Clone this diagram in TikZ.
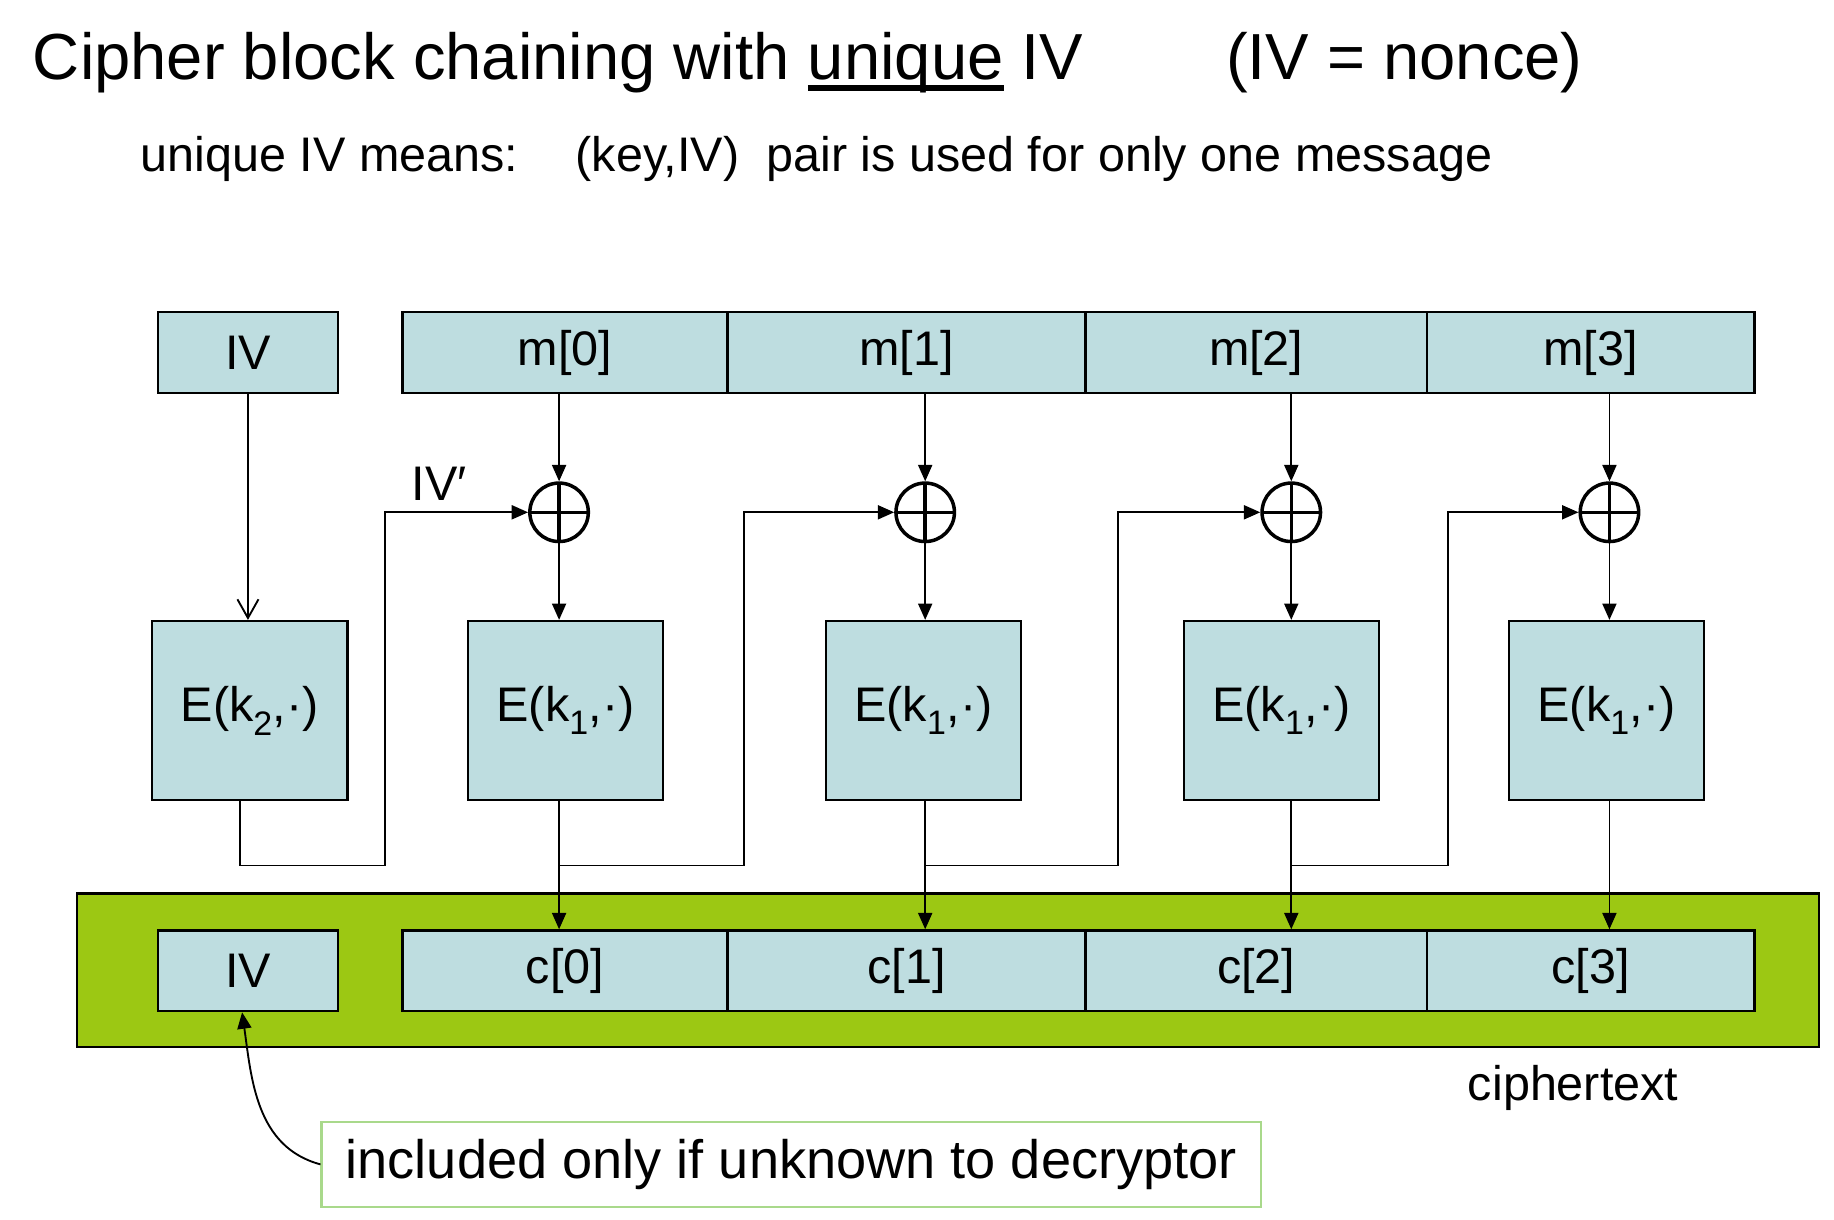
\documentclass[tikz,border=0pt]{standalone}
\usepackage{fontspec}
\setmainfont{Liberation Sans}
\usepackage{tikz}
\usetikzlibrary{arrows.meta}

\definecolor{boxblue}{HTML}{BEDDE0}
\definecolor{ctgreen}{HTML}{9CC813}
\definecolor{noteline}{HTML}{A9D98B}

\newcommand{\mainsize}{\fontsize{41.5}{48}\selectfont}
\newcommand{\ulthick}[1]{\setbox0\hbox{#1}\rlap{\rule[-9.5pt]{\wd0}{5pt}}#1}

\tikzset{
  txt/.style={inner sep=0pt, anchor=base west, font=\mainsize},
  blk/.style={draw=black, fill=boxblue, line width=2pt, minimum height=69pt, inner sep=0pt, font=\mainsize},
  ebox/.style={blk, minimum width=167pt, minimum height=153pt},
  xorop/.style={circle, draw, line width=3pt, minimum size=50pt, inner sep=0pt,
    path picture={\draw[line width=3pt] (path picture bounding box.north) -- (path picture bounding box.south)
      (path picture bounding box.west) -- (path picture bounding box.east);}},
  ln/.style={line width=1.6pt},
  arr/.style={ln, -{Triangle[length=14pt,width=12pt]}},
}

\begin{document}
\begin{tikzpicture}[x=1pt,y=-1pt]
\useasboundingbox[fill=white] (0,0) rectangle (1568,1043);
% heading
\node[txt, font=\fontsize{55.7}{60}\selectfont] (title) at (28,68) {Cipher block chaining with \ulthick{unique} IV};
\node[txt, font=\fontsize{55.7}{60}\selectfont] (nonce) at (1048,68) {(IV = nonce)};
\node[txt] (means) at (120,147) {unique IV means:};
\node[txt] (keyiv) at (492,147) {(key,IV)};
\node[txt] (pair) at (655,147) {pair is used for only one message};
% input row
\node[blk, minimum width=154pt] (ivt) at (212,301.5) {IV};
\node[blk, minimum width=278pt] (m0) at (483,301.5) {m[0]};
\node[blk, minimum width=306pt] (m1) at (775,301.5) {m[1]};
\node[blk, minimum width=292pt] (m2) at (1074,301.5) {m[2]};
\node[blk, minimum width=280pt] (m3) at (1360,301.5) {m[3]};
% xor
\node[xorop] (x0) at (478,438) {};
\node[xorop] (x1) at (791,438) {};
\node[xorop] (x2) at (1104,438) {};
\node[xorop] (x3) at (1376,438) {};
% block cipher
\node[ebox] (ek2) at (213.5,607.5) {E(k\textsubscript{2},·)};
\node[ebox] (e0) at (483.5,607.5) {E(k\textsubscript{1},·)};
\node[ebox] (e1) at (789.5,607.5) {E(k\textsubscript{1},·)};
\node[ebox] (e2) at (1095.5,607.5) {E(k\textsubscript{1},·)};
\node[ebox] (e3) at (1373.5,607.5) {E(k\textsubscript{1},·)};
% output row
\node[draw, fill=ctgreen, line width=2pt, minimum width=1489pt, minimum height=131pt] (ct) at (810.5,829.5) {};
\node[blk, minimum width=154pt] (ivb) at (212,830) {IV};
\node[blk, minimum width=278pt] (c0) at (483,830) {c[0]};
\node[blk, minimum width=306pt] (c1) at (775,830) {c[1]};
\node[blk, minimum width=292pt] (c2) at (1074,830) {c[2]};
\node[blk, minimum width=280pt] (c3) at (1360,830) {c[3]};
\node[txt, anchor=base] (ctlabel) at (1345,941) {ciphertext};
\node[draw=noteline, line width=2pt, minimum width=803pt, minimum height=73pt, inner sep=0pt,
  font=\fontsize{46.3}{52}\selectfont] (note) at (676.5,995.5) {included only if unknown to decryptor};
% chaining corners
\coordinate (t0) at (329,740);
\coordinate (t1) at (636,740);
\coordinate (t2) at (956,740);
\coordinate (t3) at (1238,740);
\node[txt] (ivp) at (352,428) {IV′};
% connectors
\draw[ln, -{Straight Barb[length=16pt,width=18pt]}] (ivt.south) -- (ivt.south |- ek2.north);
\draw[arr] ([xshift=-8pt]ek2.south) |- (t0) |- (x0.west);
\draw[arr] (x0.south |- m0.south) -- (x0.north);
\draw[arr] (x1.south |- m1.south) -- (x1.north);
\draw[arr] (x2.south |- m2.south) -- (x2.north);
\draw[arr] (x3.south |- m3.south) -- (x3.north);
\draw[arr] (x0.south) -- (x0.south |- e0.north);
\draw[arr] (x1.south) -- (x1.south |- e1.north);
\draw[arr] (x2.south) -- (x2.south |- e2.north);
\draw[arr] (x3.south) -- (x3.south |- e3.north);
\draw[arr] (x0.south |- e0.south) -- (x0.south |- c0.north);
\draw[arr] (x1.south |- e1.south) -- (x1.south |- c1.north);
\draw[arr] (x2.south |- e2.south) -- (x2.south |- c2.north);
\draw[arr] (x3.south |- e3.south) -- (x3.south |- c3.north);
\draw[arr] (x0.south |- e0.south) |- (t1) |- (x1.west);
\draw[arr] (x1.south |- e1.south) |- (t2) |- (x2.west);
\draw[arr] (x2.south |- e2.south) |- (t3) |- (x3.west);
\draw[arr] (note.west) to[out=165,in=-82] ([xshift=-5pt]ivb.south);
\end{tikzpicture}
\end{document}
